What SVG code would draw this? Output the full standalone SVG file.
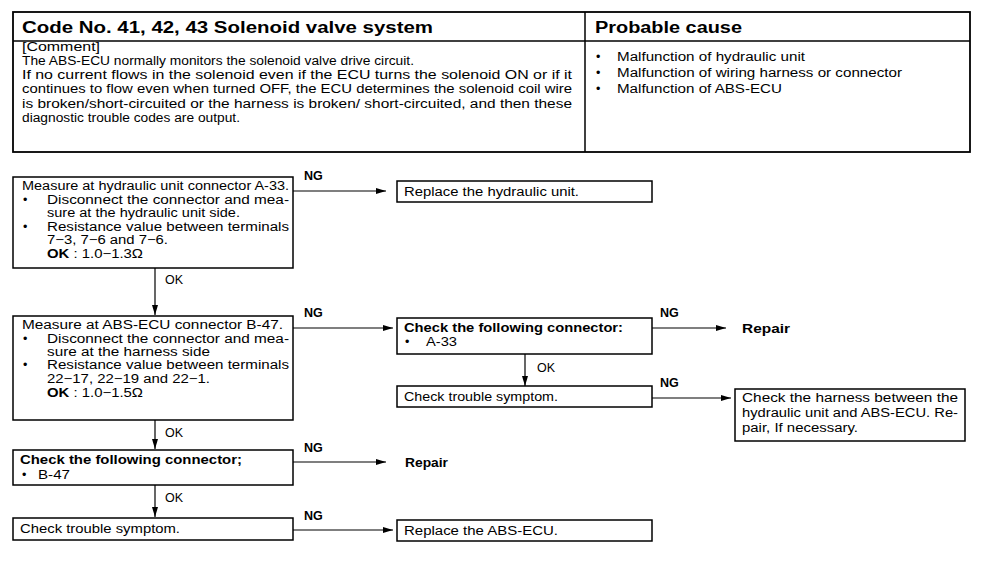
<svg xmlns="http://www.w3.org/2000/svg" width="1008" height="576" viewBox="0 0 1008 576">
<defs>
<style>
text{font-family:"Liberation Sans",Arial,sans-serif;font-size:12.5px;fill:#000}
.c{font-size:12px}
.h{font-size:16px;font-weight:bold}
.b{font-weight:bold}
.box{fill:#fff;stroke:#000;stroke-width:1.5}
.ln{fill:none;stroke:#000;stroke-width:1.2}
</style>
<marker id="ah" viewBox="0 0 10 6" refX="10" refY="3" markerWidth="10" markerHeight="6" markerUnits="userSpaceOnUse" orient="auto">
<path d="M0,0 L10,3 L0,6 Z" fill="#000"/>
</marker>
</defs>
<rect width="1008" height="576" fill="#fff"/>
<g id="table">
<rect x="13" y="12" width="957" height="140" fill="none" stroke="#000" stroke-width="1.8"/>
<line x1="13" y1="41" x2="970" y2="41" stroke="#000" stroke-width="1.5"/>
<line x1="585" y1="12" x2="585" y2="152" stroke="#000" stroke-width="1.5"/>
<text class="h" x="22" y="33" textLength="411" lengthAdjust="spacingAndGlyphs">Code No. 41, 42, 43 Solenoid valve system</text>
<text class="h" x="595" y="33" textLength="147" lengthAdjust="spacingAndGlyphs">Probable cause</text>
<text class="c" x="22" y="51" textLength="78" lengthAdjust="spacingAndGlyphs">[Comment]</text>
<text class="c" x="22" y="65" textLength="392" lengthAdjust="spacingAndGlyphs">The ABS-ECU normally monitors the solenoid valve drive circuit.</text>
<text class="c" x="22" y="79" textLength="550" lengthAdjust="spacingAndGlyphs">If no current flows in the solenoid even if the ECU turns the solenoid ON or if it</text>
<text class="c" x="22" y="93" textLength="550" lengthAdjust="spacingAndGlyphs">continues to flow even when turned OFF, the ECU determines the solenoid coil wire</text>
<text class="c" x="22" y="108" textLength="550" lengthAdjust="spacingAndGlyphs">is broken/short-circuited or the harness is broken/ short-circuited, and then these</text>
<text class="c" x="22" y="122" textLength="218" lengthAdjust="spacingAndGlyphs">diagnostic trouble codes are output.</text>
<text x="596" y="61">•</text><text x="617" y="61" textLength="188" lengthAdjust="spacingAndGlyphs">Malfunction of hydraulic unit</text>
<text x="596" y="77">•</text><text x="617" y="77" textLength="285" lengthAdjust="spacingAndGlyphs">Malfunction of wiring harness or connector</text>
<text x="596" y="93">•</text><text x="617" y="93" textLength="165" lengthAdjust="spacingAndGlyphs">Malfunction of ABS-ECU</text>
</g>
<g id="connectors">
<line class="ln" x1="293" y1="191" x2="386" y2="191" marker-end="url(#ah)"/>
<line class="ln" x1="155" y1="268" x2="155" y2="315" marker-end="url(#ah)"/>
<line class="ln" x1="293" y1="328" x2="393" y2="328" marker-end="url(#ah)"/>
<line class="ln" x1="652" y1="328" x2="726" y2="328" marker-end="url(#ah)"/>
<line class="ln" x1="525" y1="354" x2="525" y2="386" marker-end="url(#ah)"/>
<line class="ln" x1="652" y1="398" x2="731" y2="398" marker-end="url(#ah)"/>
<line class="ln" x1="155" y1="420" x2="155" y2="449" marker-end="url(#ah)"/>
<line class="ln" x1="293" y1="462" x2="386" y2="462" marker-end="url(#ah)"/>
<line class="ln" x1="155" y1="485" x2="155" y2="517" marker-end="url(#ah)"/>
<line class="ln" x1="293" y1="530" x2="393" y2="530" marker-end="url(#ah)"/>
<text class="b" x="304" y="180">NG</text>
<text x="165" y="284">OK</text>
<text class="b" x="304" y="317">NG</text>
<text class="b" x="660" y="317">NG</text>
<text x="537" y="372">OK</text>
<text class="b" x="660" y="387">NG</text>
<text x="165" y="437">OK</text>
<text class="b" x="304" y="452">NG</text>
<text x="165" y="502">OK</text>
<text class="b" x="304" y="520">NG</text>
</g>
<g id="n1">
<rect class="box" x="13" y="177" width="280" height="91"/>
<text x="22" y="190" textLength="267" lengthAdjust="spacingAndGlyphs">Measure at hydraulic unit connector A-33.</text>
<text x="23" y="204">•</text><text x="47" y="204" textLength="242" lengthAdjust="spacingAndGlyphs">Disconnect the connector and mea-</text>
<text x="47" y="217" textLength="193" lengthAdjust="spacingAndGlyphs">sure at the hydraulic unit side.</text>
<text x="23" y="231">•</text><text x="47" y="231" textLength="242" lengthAdjust="spacingAndGlyphs">Resistance value between terminals</text>
<text x="47" y="244" textLength="121" lengthAdjust="spacingAndGlyphs">7−3, 7−6 and 7−6.</text>
<text x="47" y="258" textLength="96" lengthAdjust="spacingAndGlyphs"><tspan class="b">OK</tspan> : 1.0−1.3Ω</text>
</g>
<g id="n2">
<rect class="box" x="397" y="181" width="255" height="21"/>
<text x="404" y="196" textLength="175" lengthAdjust="spacingAndGlyphs">Replace the hydraulic unit.</text>
</g>
<g id="n3">
<rect class="box" x="13" y="316" width="280" height="104"/>
<text x="22" y="329" textLength="261" lengthAdjust="spacingAndGlyphs">Measure at ABS-ECU connector B-47.</text>
<text x="23" y="343">•</text><text x="47" y="343" textLength="242" lengthAdjust="spacingAndGlyphs">Disconnect the connector and mea-</text>
<text x="47" y="356" textLength="163" lengthAdjust="spacingAndGlyphs">sure at the harness side</text>
<text x="23" y="369">•</text><text x="47" y="369" textLength="242" lengthAdjust="spacingAndGlyphs">Resistance value between terminals</text>
<text x="47" y="383" textLength="163" lengthAdjust="spacingAndGlyphs">22−17, 22−19 and 22−1.</text>
<text x="47" y="397" textLength="96" lengthAdjust="spacingAndGlyphs"><tspan class="b">OK</tspan> : 1.0−1.5Ω</text>
</g>
<g id="n4">
<rect class="box" x="397" y="318" width="255" height="36"/>
<text class="b" x="404" y="332" textLength="219" lengthAdjust="spacingAndGlyphs">Check the following connector:</text>
<text x="405" y="346">•</text><text x="426" y="346" textLength="31" lengthAdjust="spacingAndGlyphs">A-33</text>
</g>
<g id="n5">
<text class="b" x="742" y="333" textLength="48" lengthAdjust="spacingAndGlyphs">Repair</text>
</g>
<g id="n6">
<rect class="box" x="397" y="386" width="255" height="21"/>
<text x="404" y="401" textLength="154" lengthAdjust="spacingAndGlyphs">Check trouble symptom.</text>
</g>
<g id="n7">
<rect class="box" x="735" y="389" width="230" height="52"/>
<text x="742" y="402" textLength="216" lengthAdjust="spacingAndGlyphs">Check the harness between the</text>
<text x="742" y="417" textLength="216" lengthAdjust="spacingAndGlyphs">hydraulic unit and ABS-ECU. Re-</text>
<text x="742" y="432" textLength="116" lengthAdjust="spacingAndGlyphs">pair, If necessary.</text>
</g>
<g id="n8">
<rect class="box" x="13" y="450" width="280" height="35"/>
<text class="b" x="20" y="464" textLength="222" lengthAdjust="spacingAndGlyphs">Check the following connector;</text>
<text x="22" y="479">•</text><text x="38" y="479" textLength="32" lengthAdjust="spacingAndGlyphs">B-47</text>
</g>
<g id="n9">
<text class="b" x="405" y="467" textLength="43" lengthAdjust="spacingAndGlyphs">Repair</text>
</g>
<g id="n10">
<rect class="box" x="13" y="518" width="280" height="22"/>
<text x="20" y="533" textLength="160" lengthAdjust="spacingAndGlyphs">Check trouble symptom.</text>
</g>
<g id="n11">
<rect class="box" x="397" y="520" width="255" height="21"/>
<text x="404" y="535" textLength="154" lengthAdjust="spacingAndGlyphs">Replace the ABS-ECU.</text>
</g>
</svg>
